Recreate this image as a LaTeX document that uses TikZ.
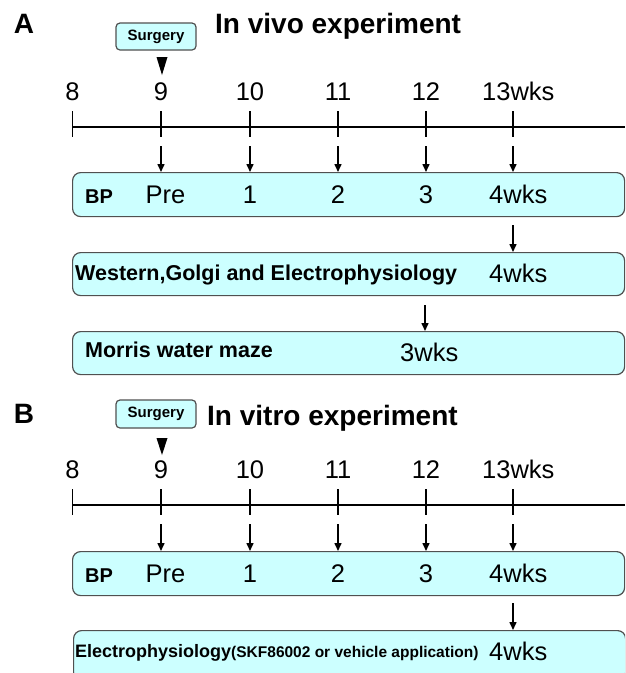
\documentclass[tikz,border=0pt]{standalone}
\usepackage{fontspec}
\setmainfont{Liberation Sans}
\usetikzlibrary{arrows.meta}
\definecolor{boxfill}{HTML}{CCFFFF}
\definecolor{boxline}{HTML}{505050}
\begin{document}
\begin{tikzpicture}[x=1pt,y=-1pt,
  panel/.style={inner sep=0pt,anchor=base,font=\bfseries\fontsize{28}{28}\selectfont},
  title/.style={inner sep=0pt,anchor=base west,font=\bfseries\fontsize{28}{28}\selectfont},
  surg/.style={draw=boxline,fill=boxfill,rounded corners=4pt,line width=1.2pt,
    minimum width=80pt,inner sep=0pt,font=\bfseries\fontsize{15}{15}\selectfont},
  wk/.style={inner sep=0pt,anchor=base,font=\fontsize{25.5}{26}\selectfont},
  wkw/.style={wk,anchor=base west},
  band/.style={draw=boxline,fill=boxfill,rounded corners=8pt,line width=1.2pt,
    minimum width=552pt,inner sep=0pt,anchor=north west},
  tag/.style={inner sep=0pt,anchor=base west,font=\bfseries\fontsize{21.5}{22}\selectfont},
  bptag/.style={inner sep=0pt,anchor=base west,font=\bfseries\fontsize{20}{20}\selectfont},
  axis/.style={line width=2.4pt},
  tickline/.style={line width=1.8pt},
  arr/.style={line width=1.5pt,-{Triangle[length=8pt,width=7pt]}},
  marker/.style={fill=black},
]
\clip (0,0) rectangle (625,673);

% ---------------- Panel A: in vivo ----------------
\node[panel] (labA) at (24,33) {A};
\node[title] (titA) at (215,33) {In vivo experiment};
\node[surg,minimum height=27pt] (surA) at (156,36.5) {Surgery};
\coordinate (mkA) at (162,57);
\fill[marker] (mkA) ++(-5.5,0) -- ++(11,0) -- ++(-5.5,18) -- cycle;

\foreach \x/\n in {72.5/8,161/9,250/10,338/11,426/12}
  \node[wk] (dA\n) at (\x,100) {\n};
\node[wkw] (dA13) at (482,100) {13wks};

\coordinate (axA0) at (72.5,127);
\coordinate (axA1) at (625,127);
\draw[axis] (axA0) -- (axA1);
\foreach \x/\n in {72.5/8,161/9,250/10,338/11,426/12,513/13}{
  \coordinate (tkA\n a) at (\x,111);
  \coordinate (tkA\n b) at (\x,137);
  \draw[tickline] (tkA\n a) -- (tkA\n b);
}

\node[band,minimum height=44pt] (bpA) at (72,172) {};
\foreach \x/\n in {161/9,250/10,338/11,426/12,513/13}{
  \coordinate (arA\n) at (\x,146);
  \draw[arr] (arA\n) -- (arA\n |- bpA.north);
}
\node[bptag] (bpAt) at (85,203) {BP};
\node[wk] (bpApre) at (165.5,203) {Pre};
\node[wk] (bpA1) at (250,203) {1};
\node[wk] (bpA2) at (338,203) {2};
\node[wk] (bpA3) at (426,203) {3};
\node[wkw] (bpA4) at (489,203) {4wks};

\node[band,minimum height=43pt] (wgA) at (72,252) {};
\coordinate (arW) at (513,225);
\draw[arr] (arW) -- (arW |- wgA.north);
\node[tag] (wgAt) at (75,280) {Western,Golgi and Electrophysiology};
\node[wkw] (wgA4) at (489,282) {4wks};

\node[band,minimum height=43pt] (mwA) at (72,331) {};
\coordinate (arM) at (425,305);
\draw[arr] (arM) -- (arM |- mwA.north);
\node[tag] (mwAt) at (85,357) {Morris water maze};
\node[wkw] (mwA3) at (400,361) {3wks};

% ---------------- Panel B: in vitro ----------------
\node[panel] (labB) at (24,423) {B};
\node[title] (titB) at (207,425) {In vitro experiment};
\node[surg,minimum height=28pt] (surB) at (156,414) {Surgery};
\coordinate (mkB) at (162,438);
\fill[marker] (mkB) ++(-5.5,0) -- ++(11,0) -- ++(-5.5,17) -- cycle;

\foreach \x/\n in {72.5/8,161/9,250/10,338/11,426/12}
  \node[wk] (dB\n) at (\x,478) {\n};
\node[wkw] (dB13) at (482,478) {13wks};

\coordinate (axB0) at (72.5,505);
\coordinate (axB1) at (625,505);
\draw[axis] (axB0) -- (axB1);
\foreach \x/\n in {72.5/8,161/9,250/10,338/11,426/12,513/13}{
  \coordinate (tkB\n a) at (\x,489);
  \coordinate (tkB\n b) at (\x,515);
  \draw[tickline] (tkB\n a) -- (tkB\n b);
}

\node[band,minimum height=44pt] (bpB) at (72,551) {};
\foreach \x/\n in {161/9,250/10,338/11,426/12,513/13}{
  \coordinate (arB\n) at (\x,524);
  \draw[arr] (arB\n) -- (arB\n |- bpB.north);
}
\node[bptag] (bpBt) at (85,582) {BP};
\node[wk] (bpBpre) at (165.5,582) {Pre};
\node[wk] (bpB1) at (250,582) {1};
\node[wk] (bpB2) at (338,582) {2};
\node[wk] (bpB3) at (426,582) {3};
\node[wkw] (bpB4) at (489,582) {4wks};

\node[band,minimum height=50pt] (epB) at (73,630) {};
\coordinate (arE) at (513,603);
\draw[arr] (arE) -- (arE |- epB.north);
\node[inner sep=0pt,anchor=base west] (epBt) at (75,657)
  {\bfseries\fontsize{18}{18}\selectfont Electrophysiology\fontsize{15.5}{16}\selectfont(SKF86002 or vehicle application)};
\node[wkw] (epB4) at (489,660) {4wks};
\end{tikzpicture}
\end{document}
